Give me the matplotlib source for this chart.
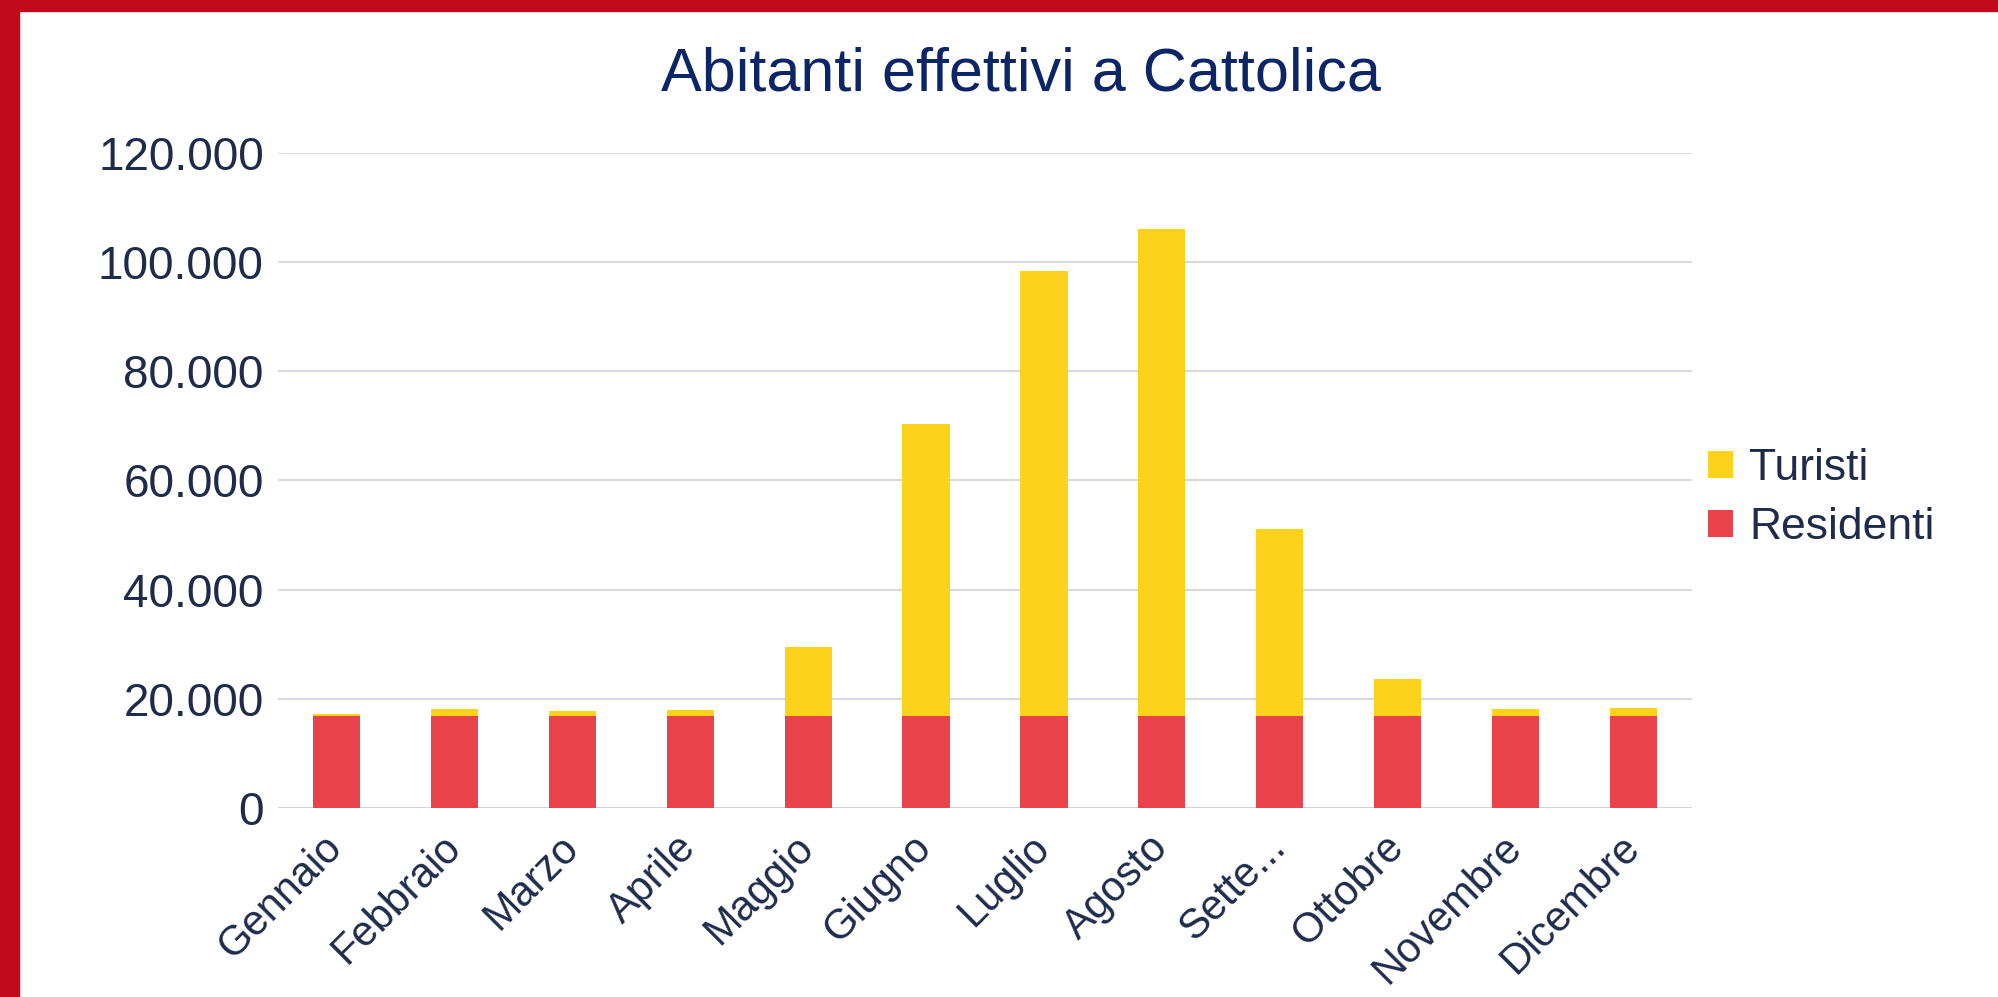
import matplotlib.pyplot as plt
from matplotlib.patches import Rectangle
from matplotlib.ticker import FuncFormatter, MultipleLocator
import numpy as np

plt.rcParams['font.family'] = ['Liberation Sans', 'DejaVu Sans']

# Data
mesi = ['Gennaio', 'Febbraio', 'Marzo', 'Aprile', 'Maggio', 'Giugno',
        'Luglio', 'Agosto', 'Sette...', 'Ottobre', 'Novembre', 'Dicembre']
residenti = [16900] * 12
totale = [17200, 18100, 17800, 18000, 29400, 70300,
          98300, 106000, 51100, 23600, 18100, 18400]
turisti = [t - r for t, r in zip(totale, residenti)]

col_res = '#E8434B'
col_tur = '#FCD21A'
txt_col = '#1E2B4A'
grid_col = '#D9D9E6'

fig = plt.figure(figsize=(19.98, 9.97), dpi=100)
ax = fig.add_axes([0.139, 0.1896, 0.708, 0.657])

x = np.arange(len(mesi))
ax.bar(x, residenti, width=0.4, color=col_res, label='Residenti', zorder=3)
ax.bar(x, turisti, width=0.4, bottom=residenti, color=col_tur, label='Turisti', zorder=3)

ax.set_xlim(-0.5, len(mesi) - 0.5)
ax.set_ylim(0, 120000)
ax.yaxis.set_major_locator(MultipleLocator(20000))
ax.yaxis.set_major_formatter(FuncFormatter(lambda v, p: f'{v:,.0f}'.replace(',', '.')))
ax.grid(axis='y', color=grid_col, linewidth=1.5, zorder=0)
ax.set_axisbelow(True)
for s in ax.spines.values():
    s.set_visible(False)
ax.axhline(0, color='#CFCFDD', linewidth=1.8, zorder=2)

ax.tick_params(axis='y', length=0, pad=10, labelsize=33, labelcolor=txt_col)
ax.tick_params(axis='x', length=0, pad=24, labelsize=30, labelcolor=txt_col)
ax.set_xticks(x)
ax.set_xticklabels(mesi, rotation=45, ha='right', va='center', rotation_mode='anchor')

fig.text(0.511, 0.925, 'Abitanti effettivi a Cattolica', ha='center', va='center',
         fontsize=44, color='#0B2566')

h, l = ax.get_legend_handles_labels()
fig.legend(h[::-1], l[::-1], loc='center left', bbox_to_anchor=(1708 / 1998, 1 - 498 / 997),
           frameon=False, fontsize=32, labelcolor=txt_col, handlelength=0.57,
           handleheight=0.57, handletextpad=0.35, labelspacing=0.4,
           borderpad=0, borderaxespad=0)

# red frame on top and left edges
fig.patches.append(Rectangle((0, 0), 19 / 1998, 1, transform=fig.transFigure,
                             color='#C10B1A', zorder=10))
fig.patches.append(Rectangle((0, 1 - 11 / 997), 1, 11 / 997, transform=fig.transFigure,
                             color='#C10B1A', zorder=10))

fig.savefig('out.png', dpi=100)
